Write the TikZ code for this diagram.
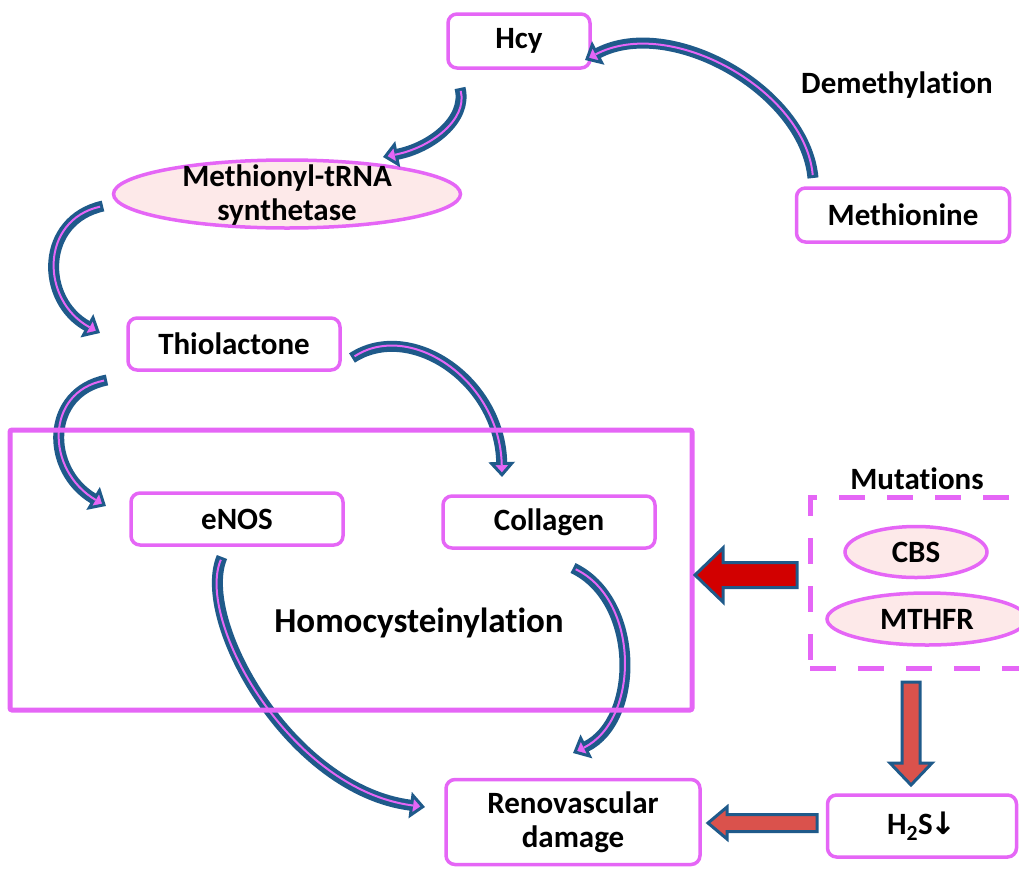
\documentclass[tikz,border=0pt]{standalone}
\usepackage{fontspec}
\setmainfont{Carlito}[Ligatures=NoCommon]
\newfontfamily\djv{DejaVu Sans}
\usetikzlibrary{arrows.meta,shapes.geometric,calc}
\definecolor{cmag}{RGB}{229,102,246}
\definecolor{cblue}{RGB}{31,90,138}
\definecolor{cpink}{RGB}{253,233,233}
\definecolor{cred}{RGB}{210,0,0}
\definecolor{credb}{RGB}{218,82,76}
\newcommand\lblfont{\fontsize{31}{34}\selectfont\bfseries}
\newcommand\bigfont{\fontsize{35}{38}\selectfont\bfseries}
\tikzset{
 box/.style={draw=cmag, line width=3.5pt, rounded corners=9pt, fill=white, inner sep=0pt, font=\lblfont, align=center},
 oval/.style={ellipse, draw=cmag, line width=3.5pt, fill=cpink, inner sep=0pt},
 lbl/.style={font=\lblfont, text=black, align=center, inner sep=0pt},
 curvarr/.style={draw=cblue, line width=11pt, -{Triangle[length=15pt,width=26pt,line width=3pt,fill=cmag]}},
 curvin/.style={draw=cmag, line width=2pt, shorten >=12pt, shorten <=3pt},
}
\newcommand\curvearr[4]{%
 \draw[curvarr] (#1) .. controls #2 and #3 .. (#4);
 \draw[curvin] (#1) .. controls #2 and #3 .. (#4);}
\newcommand\blockarr[6]{%
 \path ($(#2)!#5!(#1)$) coordinate (hb);
 \filldraw[draw=cblue, line width=3pt, fill=#6, line join=miter]
  ($(#1)!#3!90:(#2)$) -- ($(hb)!#3!90:(#2)$) -- ($(hb)!#4!90:(#2)$) -- (#2)
  -- ($(hb)!#4!-90:(#2)$) -- ($(hb)!#3!-90:(#2)$) -- ($(#1)!#3!-90:(#2)$) -- cycle;}
\begin{document}
\begin{tikzpicture}[x=1pt, y=-1pt]
\useasboundingbox (0,0) rectangle (1019,868);

% nodes
\node[box, minimum width=142, minimum height=54] (hcy) at (519,41) {Hcy};
\node[box, minimum width=213, minimum height=54] (meth) at (903,215) {Methionine};
\node[oval, minimum width=347, minimum height=68] (mtrs) at (287,194) {};
\node[lbl] (mtrslbl) at (287,195) {Methionyl-tRNA\\synthetase};
\node[box, minimum width=212, minimum height=52] (thio) at (234,344) {Thiolactone};
\node[box, minimum width=212, minimum height=52] (enos) at (237,519) {eNOS};
\node[box, minimum width=212, minimum height=52] (coll) at (549,522) {Collagen};
\node[box, minimum width=254, minimum height=85] (reno) at (573,822) {Renovascular\\damage};
\node[box, minimum width=189, minimum height=62] (hs) at (922,826) {H\textsubscript{2}S\kern-2pt{\djv\bfseries ↓}};
\node[lbl] (demlbl) at (897,85) {Demethylation};
\node[lbl] (mutlbl) at (917,479) {Mutations};
\node[lbl, font=\bigfont] (homlbl) at (419,623) {Homocysteinylation};

% mutations box
\node[draw=cmag, line width=5pt, dash pattern=on 26pt off 22pt, minimum width=230, minimum height=171, inner sep=0pt] (mutbox) at (925,582.5) {};
\node[oval, minimum width=142, minimum height=51] (cbs) at (916,552) {};
\node[lbl] at (cbs) {CBS};
\node[oval, minimum width=200, minimum height=52] (mthfr) at (927,619) {};
\node[lbl] at (mthfr) {MTHFR};

% curved arrows
\coordinate (a1s) at (460,88);  \coordinate (a1e) at (383,157);
\coordinate (a2s) at (813,178); \coordinate (a2e) at (585,60);
\coordinate (a3s) at (103,206); \coordinate (a3e) at (100,333);
\coordinate (a4s) at (107,380); \coordinate (a4e) at (106,506);
\coordinate (a5s) at (352,358); \coordinate (a5e) at (502,477);
\coordinate (a6s) at (222,557); \coordinate (a6e) at (425,807);
\coordinate (a7s) at (573,568); \coordinate (a7e) at (573,753);
\curvearr{a1s}{(468,120)}{(430,148)}{a1e}
\curvearr{a2s}{(805,90)}{(670,15)}{a2e}
\curvearr{a3s}{(40,220)}{(40,300)}{a3e}
\curvearr{a4s}{(45,392)}{(45,470)}{a4e}
\curvearr{a5s}{(410,320)}{(500,380)}{a5e}
\curvearr{a6s}{(195,620)}{(290,790)}{a6e}
\curvearr{a7s}{(640,600)}{(640,720)}{a7e}

% big box (drawn over arrows)
\node[draw=cmag, line width=5pt, rounded corners=2pt, minimum width=682, minimum height=280, inner sep=0pt] (hombox) at (351,570) {};

% block arrows
\coordinate (b1s) at (797,575); \coordinate (b1e) at (695,575);
\coordinate (b2s) at (911,682); \coordinate (b2e) at (911,785);
\coordinate (b3s) at (817,823); \coordinate (b3e) at (708,823);
\blockarr{b1s}{b1e}{12.5pt}{27pt}{28pt}{cred}
\blockarr{b2s}{b2e}{9pt}{21pt}{22pt}{credb}
\blockarr{b3s}{b3e}{8.5pt}{16pt}{19pt}{credb}
\end{tikzpicture}
\end{document}
